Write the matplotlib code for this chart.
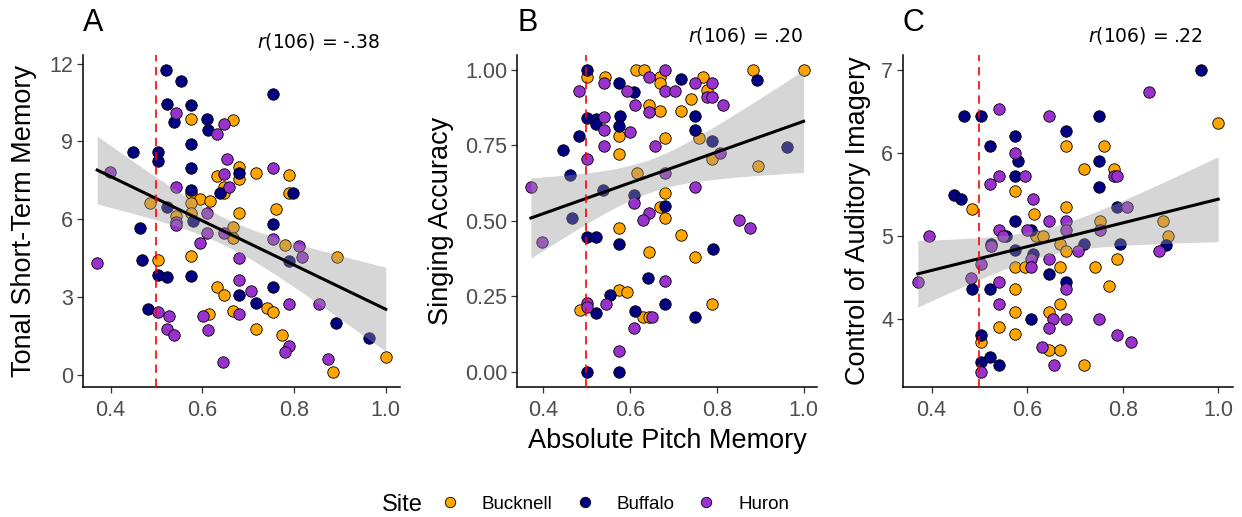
import numpy as np
import matplotlib
matplotlib.use("Agg")
import matplotlib.pyplot as plt
from matplotlib.lines import Line2D

plt.rcParams["font.family"] = ["Liberation Sans", "DejaVu Sans"]

SITES = ["Bucknell", "Buffalo", "Huron"]
SITE_COLORS = {"Bucknell": "#FFA500", "Buffalo": "#000080", "Huron": "#9932CC"}
T_CRIT = 1.983  # t(0.975, df=106)

# ---- panel A: Tonal Short-Term Memory ----
a_buffalo_x = [0.522, 0.554, 0.523, 0.575, 0.538, 0.610, 0.612, 0.575, 0.449, 0.504, 0.504,
               0.575, 0.754, 0.680, 0.797, 0.575, 0.523, 0.580, 0.465, 0.469, 0.504, 0.523,
               0.575, 0.754, 0.754, 0.680, 0.717, 0.481, 0.788, 0.891, 0.964, 0.639]
a_buffalo_y = [11.75, 11.31, 10.44, 10.39, 9.74, 9.88, 9.44, 8.90, 8.59, 8.58, 8.24,
               7.96, 10.81, 7.77, 7.02, 7.12, 6.48, 5.94, 5.65, 4.43, 3.85, 3.79,
               3.81, 5.82, 3.38, 3.08, 2.79, 2.53, 4.40, 2.02, 1.41, 7.00]
a_bucknell_x = [0.575, 0.668, 0.632, 0.648, 0.648, 0.680, 0.680, 0.717, 0.788, 0.788, 0.575,
                0.596, 0.617, 0.486, 0.575, 0.543, 0.575, 0.680, 0.761, 0.668, 0.668, 0.781,
                0.575, 0.504, 0.894, 0.633, 0.648, 0.614, 0.668, 0.741, 0.754, 0.717, 0.774,
                0.886, 1.000]
a_bucknell_y = [9.87, 9.82, 7.68, 7.25, 7.02, 8.00, 7.57, 7.79, 7.70, 7.02, 7.02,
                6.79, 6.69, 6.64, 6.61, 6.14, 6.23, 6.25, 6.41, 5.71, 5.29, 5.01,
                4.58, 4.43, 4.56, 3.40, 3.08, 2.37, 2.48, 2.57, 2.43, 1.76, 1.54,
                0.13, 0.68]
a_huron_x = [0.543, 0.648, 0.633, 0.654, 0.648, 0.658, 0.543, 0.754, 0.399, 0.610, 0.543,
             0.543, 0.610, 0.596, 0.648, 0.754, 0.810, 0.817, 0.680, 0.371, 0.680, 0.707,
             0.504, 0.527, 0.601, 0.680, 0.788, 0.854, 0.523, 0.539, 0.612, 0.788, 0.781,
             0.875, 0.646]
a_huron_y = [10.08, 9.67, 9.28, 8.32, 7.74, 7.25, 7.23, 7.98, 7.83, 6.23, 5.90,
             5.80, 5.46, 5.07, 5.46, 5.26, 4.98, 4.56, 4.52, 4.33, 3.66, 3.25,
             2.43, 2.27, 2.27, 2.37, 2.73, 2.73, 1.76, 1.54, 1.73, 1.13, 0.89,
             0.63, 0.49]

# ---- panel B: Singing Accuracy ----
b_buffalo_x = [0.502, 0.574, 0.609, 0.717, 0.892, 0.502, 0.523, 0.523, 0.578, 0.574, 0.483,
               0.446, 0.751, 0.751, 0.788, 0.963, 0.462, 0.538, 0.609, 0.680, 0.466, 0.502,
               0.523, 0.574, 0.792, 0.641, 0.554, 0.680, 0.612, 0.523, 0.751, 0.502, 0.574]
b_buffalo_y = [0.998, 0.957, 0.924, 0.969, 0.964, 0.838, 0.835, 0.820, 0.847, 0.814, 0.781,
               0.734, 0.847, 0.800, 0.763, 0.745, 0.651, 0.602, 0.586, 0.549, 0.508, 0.446,
               0.446, 0.424, 0.406, 0.309, 0.255, 0.224, 0.200, 0.195, 0.182, 0.000, 0.000]
b_bucknell_x = [0.502, 0.542, 0.614, 0.632, 0.669, 0.669, 0.769, 0.777, 0.883, 1.000, 0.740,
                0.643, 0.669, 0.717, 0.574, 0.680, 0.574, 0.760, 0.788, 0.894, 0.617, 0.680,
                0.669, 0.680, 0.574, 0.717, 0.643, 0.751, 0.574, 0.594, 0.485, 0.631, 0.643,
                0.788]
b_bucknell_y = [0.974, 0.974, 0.998, 0.998, 0.974, 0.954, 0.974, 0.932, 0.998, 0.998, 0.904,
                0.881, 0.864, 0.864, 0.780, 0.772, 0.719, 0.772, 0.704, 0.681, 0.659, 0.593,
                0.545, 0.508, 0.475, 0.452, 0.395, 0.380, 0.272, 0.265, 0.204, 0.182, 0.182,
                0.226]
b_huron_x = [0.482, 0.541, 0.594, 0.643, 0.680, 0.680, 0.705, 0.751, 0.788, 0.778, 0.788,
             0.815, 0.612, 0.643, 0.541, 0.541, 0.600, 0.541, 0.657, 0.502, 0.808, 0.680,
             0.372, 0.751, 0.609, 0.643, 0.631, 0.397, 0.852, 0.877, 0.680, 0.502, 0.502,
             0.546, 0.652, 0.609, 0.574]
b_huron_y = [0.930, 0.954, 0.930, 0.974, 0.998, 0.930, 0.930, 0.954, 0.954, 0.908, 0.908,
             0.881, 0.884, 0.860, 0.844, 0.800, 0.794, 0.747, 0.747, 0.703, 0.725, 0.659,
             0.613, 0.613, 0.560, 0.525, 0.501, 0.431, 0.501, 0.475, 0.301, 0.228, 0.215,
             0.226, 0.182, 0.145, 0.070]

# ---- panel C: Control of Auditory Imagery ----
c_buffalo_x = [0.964, 0.468, 0.504, 0.751, 0.681, 0.574, 0.522, 0.580, 0.751, 0.574, 0.751,
               0.447, 0.462, 0.574, 0.607, 0.555, 0.524, 0.574, 0.612, 0.718, 0.788, 0.795,
               0.890, 0.485, 0.522, 0.645, 0.681, 0.609, 0.504, 0.504, 0.522, 0.540]
c_buffalo_y = [7.00, 6.45, 6.45, 6.45, 6.27, 6.20, 6.09, 5.90, 5.90, 5.73, 5.59,
               5.50, 5.45, 5.18, 5.08, 5.00, 4.91, 4.83, 4.79, 4.91, 5.35, 4.91,
               4.89, 4.36, 4.36, 4.54, 4.45, 4.00, 3.81, 3.49, 3.55, 3.45]
c_bucknell_x = [1.000, 0.681, 0.761, 0.718, 0.781, 0.574, 0.485, 0.614, 0.681, 0.753, 0.885,
                0.894, 0.619, 0.634, 0.669, 0.681, 0.574, 0.595, 0.669, 0.741, 0.788, 0.574,
                0.772, 0.669, 0.574, 0.645, 0.542, 0.574, 0.504, 0.645, 0.669, 0.718]
c_bucknell_y = [6.36, 6.09, 6.09, 5.81, 5.81, 5.54, 5.33, 5.27, 5.35, 5.18, 5.18,
                5.00, 5.00, 5.00, 4.90, 4.82, 4.63, 4.63, 4.63, 4.63, 4.73, 4.36,
                4.40, 4.18, 4.09, 4.09, 3.91, 3.82, 3.73, 3.63, 3.63, 3.45]
c_huron_x = [0.855, 0.540, 0.645, 0.574, 0.542, 0.596, 0.522, 0.781, 0.789, 0.612, 0.645,
             0.681, 0.542, 0.600, 0.550, 0.394, 0.681, 0.810, 0.753, 0.525, 0.504, 0.609,
             0.707, 0.877, 0.645, 0.609, 0.482, 0.371, 0.542, 0.681, 0.542, 0.654, 0.681,
             0.751, 0.645, 0.788, 0.817, 0.631, 0.656, 0.504]
c_huron_y = [6.73, 6.53, 6.45, 6.00, 5.73, 5.73, 5.63, 5.73, 5.72, 5.45, 5.18,
             5.18, 5.08, 5.08, 5.00, 5.00, 5.08, 5.35, 5.08, 4.88, 4.66, 4.73,
             4.82, 4.82, 4.73, 4.63, 4.50, 4.45, 4.45, 4.36, 4.18, 4.00, 4.00,
             4.00, 3.90, 3.81, 3.73, 3.67, 3.45, 3.37]

panels = [
    dict(letter="A", ylabel="Tonal Short-Term Memory", rtext="$r$(106) = -.38",
         data={"Bucknell": (a_bucknell_x, a_bucknell_y), "Buffalo": (a_buffalo_x, a_buffalo_y),
               "Huron": (a_huron_x, a_huron_y)},
         yticks=[0, 3, 6, 9, 12], yfmt="{:g}", ylim=(-0.46, 12.33),
         rect=[83, 400], ylab_x=-0.186, r_pos=(0.937, 1.042)),
    dict(letter="B", ylabel="Singing Accuracy", rtext="$r$(106) = .20",
         data={"Bucknell": (b_bucknell_x, b_bucknell_y), "Buffalo": (b_buffalo_x, b_buffalo_y),
               "Huron": (b_huron_x, b_huron_y)},
         yticks=[0, 0.25, 0.5, 0.75, 1.0], yfmt="{:.2f}", ylim=(-0.05, 1.048),
         rect=[517, 817], ylab_x=-0.253, r_pos=(0.953, 1.06)),
    dict(letter="C", ylabel="Control of Auditory Imagery", rtext="$r$(106) = .22",
         data={"Bucknell": (c_bucknell_x, c_bucknell_y), "Buffalo": (c_buffalo_x, c_buffalo_y),
               "Huron": (c_huron_x, c_huron_y)},
         yticks=[4, 5, 6, 7], yfmt="{:g}", ylim=(3.185, 7.18),
         rect=[903, 1233], ylab_x=-0.136, r_pos=(0.909, 1.06)),
]

W, H = 1242, 517
fig = plt.figure(figsize=(W / 100, H / 100), dpi=100)

for p in panels:
    left, right = p["rect"]
    ax = fig.add_axes([left / W, (H - 387) / H, (right - left) / W, 332 / H])

    all_x, all_y = [], []
    for site in SITES:
        xs, ys = p["data"][site]
        all_x += xs
        all_y += ys
        ax.scatter(xs, ys, s=68, color=SITE_COLORS[site], edgecolor="black",
                   linewidth=0.6, zorder=2)

    # linear fit with 95% confidence band (drawn over points, like geom_smooth)
    x = np.array(all_x)
    y = np.array(all_y)
    b, a = np.polyfit(x, y, 1)
    resid = y - (a + b * x)
    s = np.sqrt(np.sum(resid ** 2) / (len(x) - 2))
    xg = np.linspace(x.min(), x.max(), 100)
    yg = a + b * xg
    se = s * np.sqrt(1 / len(x) + (xg - x.mean()) ** 2 / np.sum((x - x.mean()) ** 2))
    ax.fill_between(xg, yg - T_CRIT * se, yg + T_CRIT * se, color="#999999",
                    alpha=0.4, linewidth=0, zorder=3)
    ax.plot(xg, yg, color="black", linewidth=2.2, zorder=4)

    ax.axvline(0.5, color="#FF0000", linestyle=(0, (5, 3.5)), linewidth=1.2, zorder=5)

    ax.set_xlim(0.34, 1.031)
    ax.set_ylim(*p["ylim"])
    ax.set_xticks([0.4, 0.6, 0.8, 1.0])
    ax.set_xticklabels(["0.4", "0.6", "0.8", "1.0"])
    ax.set_yticks(p["yticks"])
    ax.set_yticklabels([p["yfmt"].format(v) for v in p["yticks"]])

    for side in ["top", "right"]:
        ax.spines[side].set_visible(False)
    for side in ["left", "bottom"]:
        ax.spines[side].set_linewidth(1.1)
        ax.spines[side].set_color("black")
    ax.tick_params(axis="both", length=4.5, width=0.9, color="#333333",
                   labelsize=15.5, labelcolor="#4D4D4D")
    ax.tick_params(axis="x", pad=5)
    ax.tick_params(axis="y", pad=2.5)

    ax.set_ylabel(p["ylabel"], fontsize=19.5, va="center")
    ax.yaxis.set_label_coords(p["ylab_x"], 0.5)

    ax.text(0.0, 1.0 + 32 / 332, p["letter"], transform=ax.transAxes, fontsize=22,
            ha="left", va="center")
    ax.text(p["r_pos"][0], p["r_pos"][1], p["rtext"], transform=ax.transAxes,
            fontsize=13.5, family="DejaVu Sans", ha="right", va="center")

    if p["letter"] == "B":
        ax.set_xlabel("Absolute Pitch Memory", fontsize=19.5, va="center")
        ax.xaxis.set_label_coords(0.503, -0.163)

# legend along the bottom
handles = [Line2D([], [], marker="o", linestyle="none", markersize=7.5,
                  markerfacecolor=SITE_COLORS[s], markeredgecolor="black",
                  markeredgewidth=0.6) for s in SITES]
fig.text(382 / W, (H - 505) / H, "Site", fontsize=17, ha="left", va="center")
fig.legend(handles, SITES, loc="center", bbox_to_anchor=(614 / W, (H - 504) / H),
           ncol=3, frameon=False, fontsize=13.5, handlelength=1.2,
           handletextpad=1.1, columnspacing=1.1, borderpad=0, borderaxespad=0)

fig.savefig("out.png", dpi=100)
